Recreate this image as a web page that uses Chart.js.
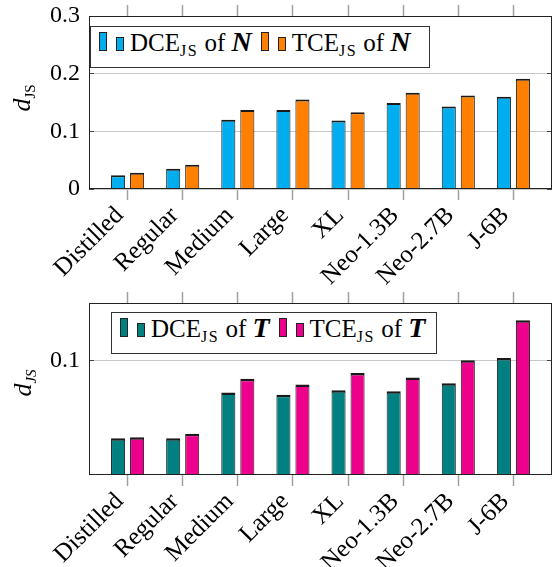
<!DOCTYPE html>
<html>
<head>
<meta charset="utf-8">
<title>d_JS per model</title>
<script src="https://cdn.jsdelivr.net/npm/chart.js@4.4.1/dist/chart.umd.min.js"></script>
<style>
  html, body { margin: 0; padding: 0; background: #fff; }
  body { position: relative; width: 553px; height: 567px; overflow: hidden; font-family: 'Liberation Serif', 'Times New Roman', serif; color: #000; }
  canvas { position: absolute; left: 0; }
  .legend { position: absolute; box-sizing: border-box; height: 42px; background: #fff; border: 1px solid #333; padding: 1px 0 0 8px; font-size: 25px; line-height: 1; white-space: nowrap; z-index: 2; }
  .legend .bar { display: inline-block; box-sizing: border-box; border: 1px solid #222; vertical-align: baseline; }
  .legend .tall { width: 8px; height: 19px; margin-right: 9px; }
  .legend .short { width: 8px; height: 14px; margin-right: 6px; }
  .legend .lab { margin-right: 9px; }
  .legend i { font-weight: bold; font-size: 28px; }
  .legend .sub { font-size: 16px; letter-spacing: 1.5px; }
  .sub { position: relative; top: 5px; font-size: 15px; }
  .ytitle { position: absolute; transform: translate(-50%, -50%) rotate(-90deg); font-size: 26px; white-space: nowrap; z-index: 2; }
</style>
</head>
<body>
<canvas id="chartN" width="553" height="290" style="top:0"></canvas>
<canvas id="chartT" width="553" height="277" style="top:290px"></canvas>
<div class="ytitle" style="left:22px; top:98px"><i>d</i><span class="sub">JS</span></div>
<div class="ytitle" style="left:23px; top:383px"><i>d</i><span class="sub"><i>JS</i></span></div>
<div class="legend" id="legN" style="left:90px; top:26px; width:340px"></div>
<div class="legend" id="legT" style="left:111px; top:312px; width:326px"></div>
<script>
const categories = ['Distilled', 'Regular', 'Medium', 'Large', 'XL', 'Neo-1.3B', 'Neo-2.7B', 'J-6B'];

// upper panel (N)
const dceN = [0.024, 0.035, 0.120, 0.137, 0.119, 0.149, 0.143, 0.160];
const tceN = [0.028, 0.042, 0.137, 0.155, 0.133, 0.167, 0.162, 0.191];
const yTicksN = [0, 0.1, 0.2, 0.3];
const yLabelsN = ['0', '0.1', '0.2', '0.3'];
const legendN = ['DCE<span class="sub">JS</span> of <i>N</i>', 'TCE<span class="sub">JS</span> of <i>N</i>'];

// lower panel (T)
const dceT = [0.032, 0.032, 0.072, 0.070, 0.074, 0.073, 0.080, 0.102];
const tceT = [0.033, 0.036, 0.084, 0.079, 0.089, 0.085, 0.100, 0.135];
const yTicksT = [0.1];
const yLabelsT = ['0.1'];
const legendT = ['DCE<span class="sub">JS</span> of <i>T</i>', 'TCE<span class="sub">JS</span> of <i>T</i>'];

Chart.defaults.font.family = "'Liberation Serif', 'Times New Roman', serif";
Chart.defaults.font.size = 24;
Chart.defaults.color = '#000';
Chart.defaults.animation = false;

// box around the plot area, like pgfplots
const framePlugin = {
  id: 'frame',
  afterDatasetsDraw(chart) {
    const { ctx, chartArea: a } = chart;
    ctx.save();
    ctx.strokeStyle = '#222';
    ctx.lineWidth = 1;
    ctx.strokeRect(a.left + 0.5, a.top + 0.5, a.right - a.left - 1, a.bottom - a.top - 1);
    ctx.restore();
  }
};

function catTicks(scale) {
  scale.ticks = categories.map((c, i) => ({ value: i }));
}

// pin the plot area: no extra padding from overhanging labels
function noPad(s) {
  s.paddingTop = 0; s.paddingBottom = 0; s.paddingLeft = 0; s.paddingRight = 0;
}

const xTickGrid = { offset: false, drawOnChartArea: false, tickLength: 11, tickWidth: 1.5, tickColor: '#a0a0a0' };

function panel(id, series, colors, capWidth, yMax, yTicks, yLabels, topH, bottomH) {
  const datasets = series.map((vals, k) => ({
    data: vals.map((v, i) => ({ x: i, y: v })),
    backgroundColor: colors[k],
    borderColor: '#1a1a1a',
    borderWidth: { top: capWidth, left: 1, right: 1, bottom: 0 },
    categoryPercentage: 0.69,
    barPercentage: 0.74
  }));
  const yBuild = s => { s.ticks = yTicks.map(v => ({ value: v })); };
  return new Chart(document.getElementById(id), {
    type: 'bar',
    data: { datasets },
    options: {
      responsive: false,
      layout: { padding: 0 },
      plugins: { legend: { display: false }, tooltip: { enabled: false } },
      scales: {
        x: {
          type: 'linear', position: 'bottom', min: -0.7, max: 7.7, offset: false,
          afterBuildTicks: catTicks,
          afterFit: s => { s.height = bottomH; noPad(s); },
          grid: xTickGrid,
          border: { display: false },
          ticks: { autoSkip: false, minRotation: 45, maxRotation: 45, padding: 1, labelOffset: -8, font: { size: 25 }, callback: v => categories[v] }
        },
        xTop: {
          type: 'linear', position: 'top', axis: 'x', min: -0.7, max: 7.7, offset: false,
          afterBuildTicks: catTicks,
          afterFit: s => { s.height = topH; noPad(s); },
          grid: xTickGrid,
          border: { display: false },
          ticks: { display: false }
        },
        y: {
          position: 'left', min: 0, max: yMax,
          afterBuildTicks: yBuild,
          afterFit: s => { s.width = 89; noPad(s); },
          grid: { color: '#c8c8c8', tickLength: -5, tickColor: '#444' },
          border: { display: false },
          ticks: { padding: 14, callback: (v, i) => yLabels[i] }
        },
        yRight: {
          position: 'right', axis: 'y', min: 0, max: yMax,
          afterBuildTicks: yBuild,
          afterFit: s => { s.width = 1; noPad(s); },
          grid: { drawOnChartArea: false, tickLength: -5, tickColor: '#444' },
          border: { display: false },
          ticks: { display: false }
        }
      }
    },
    plugins: [framePlugin]
  });
}

function legend(id, labels, colors) {
  document.getElementById(id).innerHTML = labels.map((l, k) =>
    '<span class="bar tall" style="background:' + colors[k] + '"></span>' +
    '<span class="bar short" style="background:' + colors[k] + '"></span>' +
    '<span class="lab">' + l + '</span>').join('');
}

const colorsN = ['#00aeef', '#ff8000'];
const colorsT = ['#008080', '#ec008c'];

panel('chartN', [dceN, tceN], colorsN, 2, 0.3, yTicksN, yLabelsN, 16, 101);
panel('chartT', [dceT, tceT], colorsT, 2.5, 0.15, yTicksT, yLabelsT, 13, 92);
legend('legN', legendN, colorsN);
legend('legT', legendT, colorsT);
</script>
</body>
</html>
